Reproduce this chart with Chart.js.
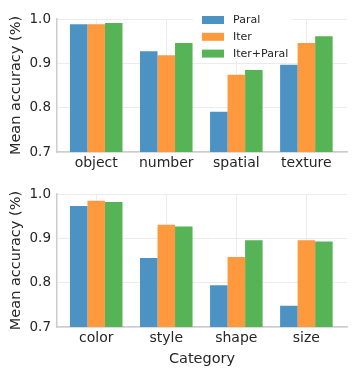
<!DOCTYPE html>
<html>
<head>
<meta charset="utf-8">
<script src="https://cdn.jsdelivr.net/npm/chart.js@4"></script>
<style>
  html, body { margin: 0; padding: 0; background: #ffffff; }
  #wrap { position: relative; width: 357px; height: 377px; }
  .box { position: absolute; left: 0; width: 357px; }
</style>
</head>
<body>
<div id="wrap">
  <div class="box" style="top:0;height:180px;"><canvas id="top"></canvas></div>
  <div class="box" style="top:180px;height:197px;"><canvas id="bottom"></canvas></div>
</div>
<script>
const seriesNames = ['Paral', 'Iter', 'Iter+Paral'];
const categoriesTop = ['object', 'number', 'spatial', 'texture'];
const paralTop = [0.988, 0.927, 0.791, 0.897];
const iterTop = [0.988, 0.918, 0.874, 0.946];
const iterParalTop = [0.991, 0.946, 0.885, 0.961];
const categoriesBottom = ['color', 'style', 'shape', 'size'];
const paralBottom = [0.973, 0.856, 0.794, 0.748];
const iterBottom = [0.985, 0.931, 0.858, 0.896];
const iterParalBottom = [0.982, 0.927, 0.896, 0.893];
const yTickValues = [0.7, 0.8, 0.9, 1.0];

const COLORS = ['#4c92c3', '#ff993e', '#56b356'];
const FONT = 'DejaVu Sans';
const TEXT = '#262626';

function toPoints(vals) { return vals.map((v, i) => ({ x: i, y: v })); }

const legendPlugin = {
  id: 'boxLegend',
  afterDraw(chart, args, opts) {
    if (!opts || !opts.show) return;
    const ctx = chart.ctx;
    ctx.save();
    ctx.fillStyle = '#ffffff';
    ctx.fillRect(193, 7, 99, 54);
    ctx.font = '11px "' + FONT + '"';
    ctx.textBaseline = 'middle';
    ctx.textAlign = 'left';
    chart.data.datasets.forEach((ds, i) => {
      const cy = 20 + i * 16.8;
      ctx.fillStyle = ds.backgroundColor;
      ctx.fillRect(202, cy - 4, 22, 8);
      ctx.fillStyle = TEXT;
      ctx.fillText(ds.label, 233, cy + 0.5);
    });
    ctx.restore();
  }
};

function makeChart(id, cats, a, b, c, opts) {
  return new Chart(document.getElementById(id), {
    type: 'bar',
    data: {
      datasets: [
        { label: seriesNames[0], data: toPoints(a), backgroundColor: COLORS[0] },
        { label: seriesNames[1], data: toPoints(b), backgroundColor: COLORS[1] },
        { label: seriesNames[2], data: toPoints(c), backgroundColor: COLORS[2] }
      ]
    },
    options: {
      responsive: true,
      maintainAspectRatio: false,
      animation: false,
      devicePixelRatio: 1,
      categoryPercentage: 0.75,
      barPercentage: 1.0,
      borderWidth: 0,
      layout: { padding: { top: opts.padTop, right: 10, left: 0, bottom: 0 } },
      plugins: {
        legend: { display: false },
        tooltip: { enabled: false },
        boxLegend: { show: opts.legend }
      },
      scales: {
        x: {
          type: 'linear',
          min: -0.56,
          max: 3.58,
          offset: false,
          grid: { offset: false, color: '#ebebeb', lineWidth: 1, drawTicks: false },
          border: { color: '#cccccc', width: 1.5 },
          afterBuildTicks(s) { s.ticks = cats.map((_, i) => ({ value: i })); },
          afterFit(s) { s.height = opts.xHeight; },
          ticks: {
            autoSkip: false,
            maxRotation: 0,
            padding: 3,
            color: TEXT,
            font: { family: FONT, size: 14 },
            callback: (v) => cats[v]
          },
          title: {
            display: opts.xTitle,
            text: 'Category',
            color: TEXT,
            font: { family: FONT, size: 14.5 },
            padding: { top: 0, bottom: 9 }
          }
        },
        y: {
          min: 0.7,
          max: 1.0,
          beginAtZero: false,
          grid: { color: '#ebebeb', lineWidth: 1, drawTicks: false },
          border: { color: '#cccccc', width: 1.5 },
          afterBuildTicks(s) { s.ticks = yTickValues.map(v => ({ value: v })); },
          afterFit(s) { s.width = 57; },
          ticks: {
            padding: 6,
            color: TEXT,
            font: { family: FONT, size: 13.5 },
            callback: (v) => Number(v).toFixed(1)
          },
          title: {
            display: true,
            text: 'Mean accuracy (%)',
            color: TEXT,
            font: { family: FONT, size: 14.5 },
            padding: { top: 8, bottom: 0 }
          }
        }
      }
    },
    plugins: [legendPlugin]
  });
}

makeChart('top', categoriesTop, paralTop, iterTop, iterParalTop,
  { padTop: 19, xHeight: 28, xTitle: false, legend: true });
makeChart('bottom', categoriesBottom, paralBottom, iterBottom, iterParalBottom,
  { padTop: 14, xHeight: 50, xTitle: true, legend: false });
</script>
</body>
</html>
